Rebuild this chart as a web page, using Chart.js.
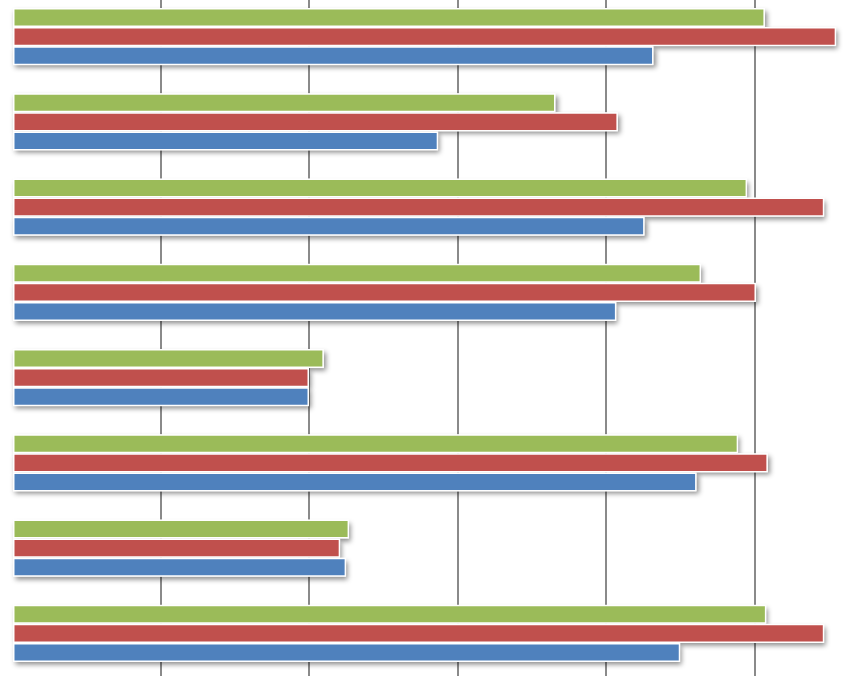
<!DOCTYPE html>
<html lang="en">
<head>
    <meta charset="UTF-8">
    <title>Bars</title>
    <style>
        html, body { margin: 0; padding: 0; overflow: hidden; background: #fff; width: 847px; height: 679px; }
        #micanvas { position: absolute; left: 0; top: -6px; }
    </style>
</head>
<body>

<canvas id="micanvas" width="903" height="682"></canvas>
<script src="https://cdn.jsdelivr.net/npm/chart.js@4.4.0/dist/chart.umd.min.js"></script>
<script>
    // top group first; one grid step = 1
    const categories = ['1', '2', '3', '4', '5', '6', '7', '8'];
    const series3 = [5.07, 3.66, 4.95, 4.64, 2.10, 4.89, 2.27, 5.08];   // green
    const series2 = [5.55, 4.08, 5.47, 5.01, 2.00, 5.09, 2.21, 5.47];   // red
    const series1 = [4.32, 2.87, 4.26, 4.07, 2.00, 4.61, 2.25, 4.50];   // blue
    const xTicksMax = 6;

    // grey drop shadow under each bar, painted before the bars
    const barShadow = {
        id: 'barShadow',
        beforeDatasetsDraw(chart) {
            const c = chart.ctx;
            c.save();
            c.shadowColor = 'rgba(0,0,0,0.45)';
            c.shadowBlur = 5;
            c.shadowOffsetX = 2;
            c.shadowOffsetY = 3;
            c.fillStyle = '#fff';
            chart.data.datasets.forEach((ds, i) => {
                chart.getDatasetMeta(i).data.forEach(bar => {
                    const p = bar.getProps(['x', 'y', 'base', 'height'], true);
                    c.fillRect(p.base, p.y - p.height / 2, p.x - p.base, p.height);
                });
            });
            c.restore();
        }
    };

    var ctx = document.getElementById('micanvas').getContext('2d');
    var chart = new Chart(ctx, {
        type: 'bar',
        data: {
            labels: categories,
            datasets: [{
                label: 'Series 3',
                backgroundColor: '#9bbb59',
                data: series3
            }, {
                label: 'Series 2',
                backgroundColor: '#c0504d',
                data: series2
            }, {
                label: 'Series 1',
                backgroundColor: '#4f81bd',
                data: series1
            }]
        },
        options: {
            indexAxis: 'y',
            responsive: false,
            animation: false,
            devicePixelRatio: 1,
            layout: { padding: { left: 12, right: 0, top: 0, bottom: 0 } },
            datasets: {
                bar: {
                    borderColor: '#ffffff',
                    borderWidth: 1.5,
                    borderSkipped: false,
                    barPercentage: 1,
                    categoryPercentage: 0.67
                }
            },
            plugins: {
                legend: { display: false },
                tooltip: { enabled: false }
            },
            scales: {
                x: {
                    min: 0,
                    max: xTicksMax,
                    ticks: { display: false, stepSize: 1 },
                    border: { display: false },
                    grid: {
                        drawTicks: false,
                        lineWidth: 2,
                        color: c => c.tick && c.tick.value === 0 ? 'rgba(0,0,0,0)' : '#8a8a8a'
                    }
                },
                y: {
                    ticks: { display: false },
                    border: { display: false },
                    grid: { display: false, drawTicks: false }
                }
            }
        },
        plugins: [barShadow]
    });
</script>
</body>
</html>
